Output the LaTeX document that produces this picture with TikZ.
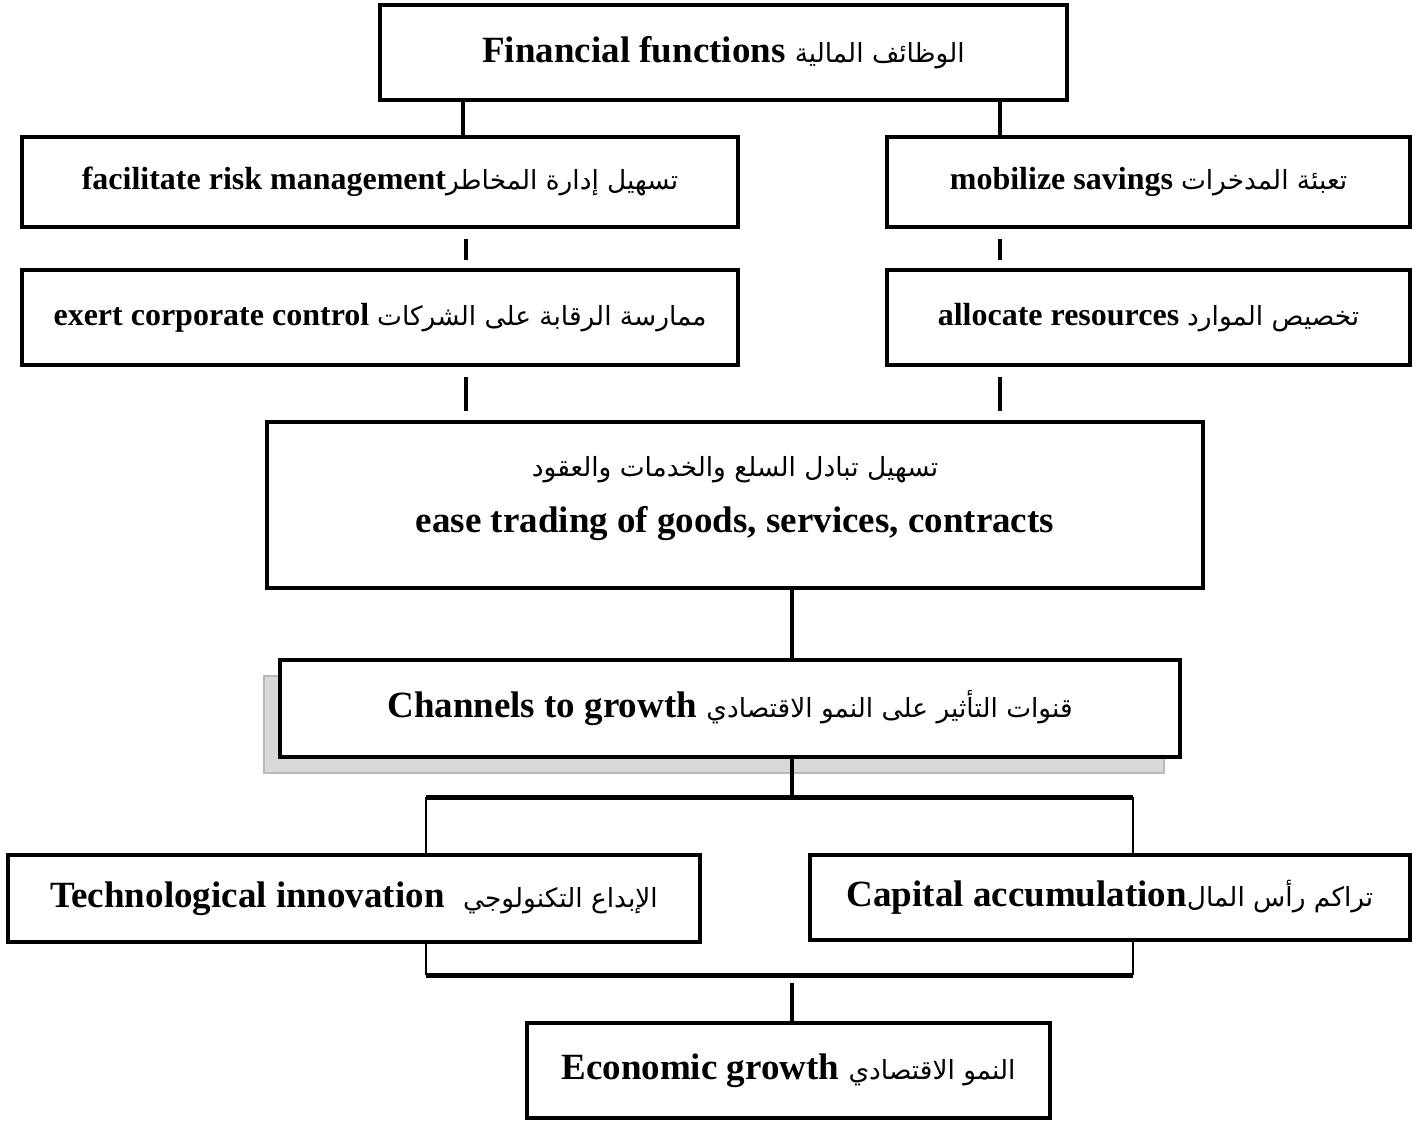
\documentclass[tikz,border=0pt]{standalone}
\usepackage{fontspec}
\usepackage{tikz}
\usetikzlibrary{shadows}
\setmainfont{Liberation Serif}
\newfontfamily\arabicfont[Script=Arabic]{DejaVu Sans}
\TeXXeTstate=1
\newcommand{\artext}[1]{{\arabicfont\mdseries\fontsize{13.2}{20}\selectfont\beginR #1\endR}}

\begin{document}
\begin{tikzpicture}[x=0.5pt, y=-0.5pt,
  box/.style={draw, line width=2pt, fill=white, inner sep=0pt, align=center,
    font=\bfseries\fontsize{16}{20}\selectfont},
  bigbox/.style={box, font=\bfseries\fontsize{18.5}{26}\selectfont},
  link/.style={line width=2pt},
  thinlink/.style={line width=1.2pt},
  bar/.style={line width=2.5pt}]
\useasboundingbox (0,0) rectangle (1418,1124);
% Draw boxes
\node[bigbox, minimum width=343.5pt, minimum height=47.5pt] (fin) at (723.5,52.5)
  {Financial functions \artext{الوظائف المالية}};
\node[box, minimum width=358pt, minimum height=45pt] (risk) at (380,182)
  {facilitate risk management\artext{تسهيل إدارة المخاطر}};
\node[box, minimum width=261.5pt, minimum height=45pt] (savings) at (1148.5,182)
  {mobilize savings \artext{تعبئة المدخرات}};
\node[box, minimum width=358pt, minimum height=47.5pt] (control) at (380,317.5)
  {exert corporate control \artext{ممارسة الرقابة على الشركات}};
\node[box, minimum width=261.5pt, minimum height=47.5pt] (allocate) at (1148.5,317.5)
  {allocate resources \artext{تخصيص الموارد}};
\node[bigbox, minimum width=468pt, minimum height=83pt] (trade) at (735,505)
  {\artext{تسهيل تبادل السلع والخدمات والعقود}\\[2pt]
   ease trading of goods, services, contracts\rule[-11pt]{0pt}{1pt}};
\node[bigbox, minimum width=450pt, minimum height=48.5pt,
  drop shadow={shadow xshift=-8pt, shadow yshift=-8pt, fill=gray!30, draw=gray!55,
    line width=1pt, opacity=1}] (channels) at (730,708.5)
  {Channels to growth \artext{قنوات التأثير على النمو الاقتصادي}};
\node[bigbox, minimum width=346pt, minimum height=43.5pt] (tech) at (354,898.5)
  {Technological innovation \ \artext{الإبداع التكنولوجي}};
\node[bigbox, minimum width=300pt, minimum height=42.5pt] (capital) at (1110,897.5)
  {Capital accumulation\artext{تراكم رأس المال}};
\node[bigbox, minimum width=261.5pt, minimum height=47.5pt] (econ) at (788.5,1070.5)
  {Economic growth \artext{النمو الاقتصادي}};
% Split and join points
\coordinate (split) at (792,797);
\coordinate (splitL) at (426,797);
\coordinate (splitR) at (1133,797);
\coordinate (join) at (792,975);
\coordinate (joinL) at (426,975);
\coordinate (joinR) at (1133,975);
% Draw connectors
\draw[link] (463,0 |- fin.south) -- (463,0 |- risk.north);
\draw[link] (1000,0 |- fin.south) -- (1000,0 |- savings.north);
\draw[link, shorten <=5pt, shorten >=4pt] (466,0 |- risk.south) -- (466,0 |- control.north);
\draw[link, shorten <=5pt, shorten >=4pt] (1000,0 |- savings.south) -- (1000,0 |- allocate.north);
\draw[link, shorten <=5pt, shorten >=4.5pt] (466,0 |- control.south) -- (466,0 |- trade.north);
\draw[link, shorten <=5pt, shorten >=4.5pt] (1000,0 |- allocate.south) -- (1000,0 |- trade.north);
\draw[link] (792,0 |- trade.south) -- (792,0 |- channels.north);
\draw[link] (split |- channels.south) -- (split);
\draw[bar] (splitL) -- (splitR);
\draw[thinlink] (splitL) -- (splitL |- tech.north);
\draw[thinlink] (splitR) -- (splitR |- capital.north);
\draw[thinlink] (joinL |- tech.south) -- (joinL);
\draw[thinlink] (joinR |- capital.south) -- (joinR);
\draw[bar] (joinL) -- (joinR);
\draw[link, shorten <=4pt] (join) -- (join |- econ.north);
\end{tikzpicture}
\end{document}
